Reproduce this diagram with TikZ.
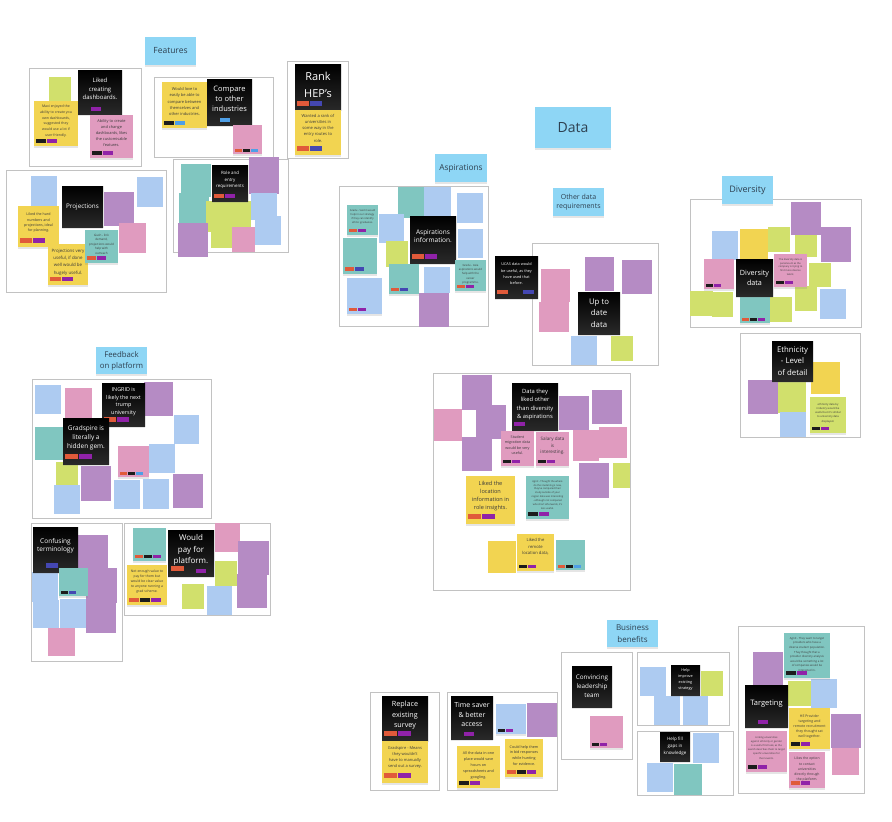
\documentclass[tikz,border=0pt]{standalone}
\usepackage{fontspec}
\setmainfont{Open Sans}
\usepackage{xcolor}
\usepackage{tikz}
\usetikzlibrary{shadows}

\definecolor{labelblue}{HTML}{8ED6F5}
\definecolor{labeltext}{HTML}{2E4050}
\definecolor{stickyyellow}{HTML}{F2D451}
\definecolor{stickylime}{HTML}{D1E06C}
\definecolor{stickypink}{HTML}{E09BBF}
\definecolor{stickypurple}{HTML}{B58BC4}
\definecolor{stickyblue}{HTML}{ADCBF1}
\definecolor{stickyteal}{HTML}{80C6C0}
\definecolor{frameline}{HTML}{C2C2C2}
\definecolor{tagorange}{HTML}{E05A3A}
\definecolor{tagpurple}{HTML}{9022A8}
\definecolor{tagindigo}{HTML}{4447B2}
\definecolor{tagblue}{HTML}{4E9FE6}
\definecolor{tagblack}{HTML}{1C1C1C}
\definecolor{notetext}{HTML}{3A3A3A}

\newcommand{\sz}[2]{\fontsize{#1}{#2}\selectfont}
% row of little voting tags at the foot of a note: node, start, tag width, colours
\newcommand{\tagrow}[4]{%
  \foreach \tc [count=\ti from 0] in {#4}
    \fill[\tc] ([shift={({#2+\ti*(#3+1)},{-0.75*#3})}]#1.south west) rectangle ++({#3},{0.4*#3});}

\begin{document}
\begin{tikzpicture}[x=1pt, y=-1pt]
    % Define styles for the board
    \tikzstyle{frame} = [draw=frameline, line width=0.9pt]
    \tikzstyle{lift} = [drop shadow={shadow xshift=0.4pt, shadow yshift=-2.2pt, opacity=0.2}]
    \tikzstyle{sticky} = [rectangle, anchor=north west, inner sep=0pt, outer sep=0pt]
    \tikzstyle{heading} = [sticky, fill=labelblue, text=labeltext, align=center, lift]
    \tikzstyle{topic} = [sticky, top color=black, bottom color=black!84, lift]
    \tikzstyle{note} = [sticky, lift]
    \tikzstyle{words} = [anchor=north, align=center, inner sep=0pt, text=notetext]
    \tikzstyle{whitewords} = [anchor=center, align=center, inner sep=0pt, text=white]
    \tikzset{wh/.style 2 args={minimum width=#1pt, minimum height=#2pt}}

    \fill[white] (0,0) rectangle (892,822);
    \useasboundingbox (0,0) rectangle (892,822);

    % Frames
    \draw[frame] (29,68) rectangle (141,166);
    \draw[frame] (154,77) rectangle (273,157);
    \draw[frame] (287,61) rectangle (348,158);
    \draw[frame] (6,170) rectangle (166,292);
    \draw[frame] (173,159) rectangle (288,252);
    \draw[frame] (339,186) rectangle (488,326);
    \draw[frame] (532,243) rectangle (658,365);
    \draw[frame] (690,199) rectangle (861,327);
    \draw[frame] (740,333) rectangle (860,437);
    \draw[frame] (32,379) rectangle (211,518);
    \draw[frame] (31,523) rectangle (122,661);
    \draw[frame] (124,523) rectangle (270,615);
    \draw[frame] (433,373) rectangle (630,590);
    \draw[frame] (370,692) rectangle (439,790);
    \draw[frame] (447,692) rectangle (557,790);
    \draw[frame] (561,652) rectangle (632,759);
    \draw[frame] (637,652) rectangle (729,725);
    \draw[frame] (637,731) rectangle (733,795);
    \draw[frame] (738,626) rectangle (864,793);

    % Plain stickies: x/y/width/height/colour
    \foreach \x/\y/\w/\h/\c in {
        49/77/22/25/stickylime,
        31/176/26/30/stickyblue, 104/192/30/34/stickypurple, 137/177/26/30/stickyblue, 119/223/27/30/stickypink,
        181/164/30/33/stickyteal, 179/193/30/32/stickyteal, 249/157/30/37/stickypurple, 206/201/23/31/stickylime,
        229/201/22/31/stickylime, 211/225/21/23/stickylime, 251/193/26/27/stickyblue, 255/216/26/29/stickyblue,
        178/223/30/34/stickypurple, 232/227/23/25/stickypink,
        398/187/26/31/stickyteal, 424/187/27/30/stickyblue, 457/193/26/30/stickyblue, 379/214/25/29/stickyblue,
        458/229/25/29/stickyblue, 386/241/22/26/stickylime, 424/267/26/26/stickyblue, 419/293/30/34/stickypurple,
        541/269/29/33/stickypink, 539/302/30/30/stickypink, 585/257/29/34/stickypurple, 622/260/30/34/stickypurple,
        571/336/26/29/stickyblue, 611/336/22/25/stickylime,
        791/202/30/33/stickypurple, 821/227/30/35/stickypurple, 712/231/26/29/stickyblue, 740/229/28/30/stickyyellow,
        768/227/22/25/stickylime, 795/235/22/22/stickylime, 809/263/22/24/stickylime, 690/291/23/25/stickylime,
        712/292/21/25/stickylime, 770/297/22/25/stickylime, 795/286/22/25/stickylime, 820/289/26/30/stickyblue,
        811/362/29/32/stickyyellow, 748/380/30/34/stickypurple, 778/382/28/31/stickylime, 780/412/26/25/stickyblue,
        35/385/26/29/stickyblue, 65/388/27/30/stickypink, 144/382/29/34/stickypurple, 174/415/25/29/stickyblue,
        35/427/30/33/stickyteal, 149/444/26/29/stickyblue, 56/462/22/25/stickylime, 81/466/30/35/stickypurple,
        54/485/26/29/stickyblue, 114/480/26/29/stickyblue, 143/479/26/30/stickyblue, 173/474/30/34/stickypurple,
        78/535/30/35/stickypurple, 86/568/31/35/stickypurple, 86/600/30/33/stickypurple, 32/572/26/30/stickyblue,
        33/600/26/28/stickyblue, 60/599/26/29/stickyblue, 48/628/27/28/stickypink,
        215/523/25/29/stickypink, 238/541/31/34/stickypurple, 237/574/30/34/stickypurple, 215/561/22/25/stickylime,
        182/584/22/25/stickylime, 207/586/25/29/stickyblue,
        462/375/30/35/stickypurple, 434/409/28/32/stickypink, 476/405/30/34/stickypurple, 462/437/30/34/stickypurple,
        559/396/30/34/stickypurple, 592/390/30/34/stickypurple, 573/430/26/31/stickypink, 599/427/28/31/stickypink,
        579/463/30/35/stickypurple, 613/463/17/25/stickylime, 488/541/28/32/stickyyellow,
        527/703/30/34/stickypurple,
        640/667/26/29/stickyblue, 701/671/22/25/stickylime, 654/696/26/29/stickyblue, 683/696/25/29/stickyblue,
        693/733/26/30/stickyblue, 647/763/26/29/stickyblue, 674/764/28/31/stickyteal,
        753/652/30/34/stickypurple, 788/681/23/25/stickylime, 811/679/26/29/stickyblue, 831/714/30/34/stickypurple,
        832/748/27/27/stickypink}
        \fill[\c] (\x,\y) rectangle ++(\w,\h);

    % Headings
    \node[heading, wh={51}{28}, font=\sz{8.5}{10}] (features) at (145,37) {Features};
    \node[heading, wh={76}{41}, font=\sz{14}{16}] (data) at (535,107) {Data};
    \node[heading, wh={52}{28}, font=\sz{8.3}{10}] (aspirations) at (435,154) {Aspirations};
    \node[heading, wh={51}{28}, font=\sz{7}{8.7}] (otherdata) at (553,188) {Other data\\requirements};
    \node[heading, wh={51}{28}, font=\sz{9}{10}] (diversity) at (722,176) {Diversity};
    \node[heading, wh={51}{27}, font=\sz{7.8}{11}] (feedback) at (96,347) {Feedback\\on platform};
    \node[heading, wh={51}{27}, font=\sz{8}{11.5}] (business) at (607,620) {Business\\benefits};

    % Features
    \node[topic, wh={44}{44}] (dashboards) at (78,70) {};
    \node[whitewords, font=\sz{6}{8.7}] at ([shift={(0,-3)}]dashboards.center) {Liked\\creating\\dashboards.};
    \tagrow{dashboards}{13}{10}{tagpurple}
    \node[note, fill=stickyyellow, wh={44}{45}] (maxi) at (34,101) {};
    \node[words, font=\sz{3.5}{5.7}] at ([shift={(0,4)}]maxi.north) {Maxi enjoyed the\\ability to create you\\own dashboards,\\suggested they\\would use a lot if\\user friendly.};
    \tagrow{maxi}{2}{10}{tagblack,tagpurple}
    \node[note, fill=stickypink, wh={43}{43}] (customise) at (90,115) {};
    \node[words, font=\sz{3.9}{6}] at ([shift={(0,4)}]customise.north) {Ability to create\\and change\\dashboards, likes\\the customisable\\features.};
    \tagrow{customise}{2}{10}{tagblack,tagpurple}

    \node[note, fill=stickyyellow, wh={45}{46}] (lovecompare) at (162,82) {};
    \node[words, font=\sz{4}{6.4}] at ([shift={(0,5)}]lovecompare.north) {Would love to\\easily be able to\\compare between\\themselves and\\other industries.};
    \tagrow{lovecompare}{2}{10}{tagblack,tagblue}
    \node[topic, wh={45}{46}] (compare) at (207,79) {};
    \node[whitewords, font=\sz{7.5}{10.3}] at ([shift={(0,-3)}]compare.center) {Compare\\to other\\industries};
    \tagrow{compare}{13}{10}{tagblue}
    \node[note, fill=stickypink, wh={29}{29}] (comparenote) at (233,125) {};
    \tagrow{comparenote}{1.5}{7}{tagorange,tagblack,tagblue}

    \node[topic, wh={46}{46}] (rank) at (295,64) {};
    \node[whitewords, font=\sz{11}{17}] at ([shift={(0,-2)}]rank.center) {Rank\\HEP's};
    \tagrow{rank}{2}{12}{tagorange,tagindigo}
    \node[note, fill=stickyyellow, wh={46}{45}] (wantrank) at (295,110) {};
    \node[words, font=\sz{4.1}{6.2}] at ([shift={(0,4)}]wantrank.north) {Wanted a rank of\\universities in\\some way in the\\entry routes to\\role.};
    \tagrow{wantrank}{2}{12}{tagorange,tagindigo}

    % Projections and entry requirements
    \node[topic, wh={41}{41}] (projections) at (62,186) {};
    \node[whitewords, font=\sz{6.3}{8}] at (projections.center) {Projections};
    \node[note, fill=stickyyellow, wh={41}{41}] (hardnumbers) at (18,206) {};
    \node[words, font=\sz{3.6}{5.3}] at ([shift={(0,7)}]hardnumbers.north) {Liked the hard\\numbers and\\projections, ideal\\for planning.};
    \tagrow{hardnumbers}{2}{12}{tagorange,tagpurple}
    \node[note, fill=stickyyellow, wh={40}{41}] (veryuseful) at (48,244) {};
    \node[words, font=\sz{4.4}{7.2}] at ([shift={(0,5)}]veryuseful.north) {Projections very\\useful, if done\\well would be\\hugely useful.};
    \tagrow{veryuseful}{2}{11}{tagorange,tagpurple}
    \node[note, fill=stickyteal, wh={33}{33}] (gush) at (85,230) {};
    \node[words, font=\sz{3}{4.5}] at ([shift={(0,4)}]gush.north) {Gush - link\\demand,\\projections would\\help with\\outreach};
    \tagrow{gush}{2}{9}{tagorange,tagpurple}

    \node[topic, wh={36}{36}] (entry) at (212,165) {};
    \node[whitewords, font=\sz{4.4}{6.3}] at ([shift={(0,-3)}]entry.center) {Role and\\entry\\requirements};
    \tagrow{entry}{2}{10}{tagorange,tagpurple}

    % Aspirations
    \node[topic, wh={46}{47}] (aspinfo) at (410,216) {};
    \node[whitewords, font=\sz{6.5}{8.3}] at ([shift={(0,-3)}]aspinfo.center) {Aspirations\\information.};
    \tagrow{aspinfo}{2}{12}{tagorange,tagpurple}
    \node[note, fill=stickyteal, wh={31}{30}] (gradustrategy) at (347,205) {};
    \node[words, font=\sz{2.6}{4}] at ([shift={(0,4)}]gradustrategy.north) {Gradu - Said it would\\help in our strategy\\if they can identify\\ethnic graduates.};
    \tagrow{gradustrategy}{1.5}{8}{tagorange,tagpurple}
    \node[note, fill=stickyteal, wh={34}{36}] (gradusection) at (343,238) {};
    \tagrow{gradusection}{1.5}{9}{tagorange,tagindigo}
    \node[note, fill=stickyblue, wh={35}{36}] (aspblue) at (347,278) {};
    \tagrow{aspblue}{2}{8}{tagorange,tagpurple}
    \node[note, fill=stickyteal, wh={30}{30}] (gradulink) at (389,264) {};
    \tagrow{gradulink}{1.5}{8}{tagorange,tagindigo}
    \node[note, fill=stickyteal, wh={31}{31}] (graduasia) at (455,260) {};
    \node[words, font=\sz{2.8}{4.3}] at ([shift={(0,4)}]graduasia.north) {Gradu - Asia\\aspirations would\\help with the\\career\\programme.};
    \tagrow{graduasia}{1.5}{8}{tagorange,tagpurple}

    % Other data requirements
    \node[topic, wh={43}{42}] (ucas) at (495,256) {};
    \node[whitewords, font=\sz{3.8}{6.3}] at ([shift={(0,-3)}]ucas.center) {UCAS data would\\be useful, as they\\have used that\\before.};
    \tagrow{ucas}{2}{11}{tagorange}
    \tagrow{ucas}{28}{11}{tagindigo}
    \node[topic, wh={42}{42}] (uptodate) at (578,292) {};
    \node[whitewords, font=\sz{7.8}{11.7}] at (uptodate.center) {Up to\\date\\data};

    % Diversity
    \node[note, fill=stickypink, wh={30}{30}] (divpink) at (704,259) {};
    \tagrow{divpink}{1.5}{7}{tagblack,tagpurple}
    \node[note, fill=stickypink, wh={33}{33}] (paramount) at (774,254) {};
    \node[words, font=\sz{2.5}{3.9}] at ([shift={(0,4)}]paramount.north) {The diversity data is\\paramount as the\\company is trying to\\find more diverse\\talent.};
    \tagrow{paramount}{1.5}{8}{tagblack,tagpurple}
    \node[note, fill=stickyteal, wh={30}{28}] (divteal) at (740,295) {};
    \tagrow{divteal}{1.5}{7}{tagorange,tagblack,tagpurple}
    \node[topic, wh={37}{37}] (divdata) at (736,259) {};
    \node[whitewords, font=\sz{7.2}{10}] at (divdata.center) {Diversity\\data};

    \node[topic, wh={41}{40}] (ethnicity) at (772,341) {};
    \node[whitewords, font=\sz{7.8}{11.7}] at (ethnicity.center) {Ethnicity\\- Level\\of detail};
    \node[note, fill=stickylime, wh={36}{36}] (byindustry) at (810,397) {};
    \node[words, font=\sz{2.7}{4.2}] at ([shift={(0,6)}]byindustry.north) {ethnicity data by\\industry would be\\useful but it's similar\\to university data\\displayed.};
    \tagrow{byindustry}{2}{8}{tagblack,tagpurple}

    % Feedback on platform
    \node[topic, wh={43}{43}] (ingrid) at (102,383) {};
    \node[whitewords, font=\sz{5.4}{7.5}] at ([shift={(0,-3)}]ingrid.center) {INGRID is\\likely the next\\trump\\university};
    \tagrow{ingrid}{2}{12}{tagorange,tagpurple}
    \node[topic, wh={46}{46}] (hiddengem) at (63,418) {};
    \node[whitewords, font=\sz{6.5}{9.3}] at ([shift={(0,-3)}]hiddengem.center) {Gradspire is\\literally a\\hidden gem.};
    \tagrow{hiddengem}{2}{13}{tagorange,tagpurple}
    \node[note, fill=stickypink, wh={31}{31}] (feedpink) at (118,446) {};
    \tagrow{feedpink}{1.5}{7}{tagorange,tagblack,tagblue}

    \node[topic, wh={45}{45}] (terminology) at (33,527) {};
    \node[whitewords, font=\sz{6.5}{8}] at ([shift={(0,-4)}]terminology.center) {Confusing\\terminology};
    \tagrow{terminology}{13}{12}{tagindigo}
    \node[note, fill=stickyteal, wh={29}{28}] (termnote) at (59,568) {};
    \tagrow{termnote}{1.5}{7}{tagblack,tagindigo}

    \node[note, fill=stickyteal, wh={33}{33}] (paidfor) at (133,528) {};
    \tagrow{paidfor}{1.5}{8}{tagorange,tagblack,tagpurple}
    \node[topic, wh={46}{46}] (pay) at (168,530) {};
    \node[whitewords, font=\sz{8}{11.3}] at ([shift={(0,-3)}]pay.center) {Would\\pay for\\platform.};
    \tagrow{pay}{3}{13}{tagorange}
    \tagrow{pay}{28}{10}{tagpurple}
    \node[note, fill=stickyyellow, wh={40}{40}] (notenough) at (127,565) {};
    \node[words, font=\sz{3.4}{5}] at ([shift={(0,5)}]notenough.north) {Not enough value to\\pay for them but\\would be clear value\\to anyone running a\\grad scheme.};
    \tagrow{notenough}{2}{10}{tagorange,tagblack,tagpurple}

    % Data they liked
    \node[topic, wh={46}{47}] (likedother) at (512,383) {};
    \node[whitewords, font=\sz{5.8}{8.2}] at ([shift={(0,-2)}]likedother.center) {Data they\\liked other\\than diversity\\\& aspirations};
    \tagrow{likedother}{2}{11}{tagpurple}
    \node[note, fill=stickypink, wh={33}{35}] (migration) at (501,431) {};
    \node[words, font=\sz{3.7}{5.5}] at ([shift={(0,4)}]migration.north) {Student\\migration data\\would be very\\useful.};
    \tagrow{migration}{2}{8}{tagblack,tagpurple}
    \node[note, fill=stickypink, wh={33}{34}] (salary) at (536,432) {};
    \node[words, font=\sz{4.6}{6.6}] at ([shift={(0,5)}]salary.north) {Salary data\\is\\interesting.};
    \tagrow{salary}{2}{8}{tagblack,tagpurple}
    \node[note, fill=stickyyellow, wh={49}{48}] (location) at (466,476) {};
    \node[words, font=\sz{5.6}{8}] at ([shift={(0,5)}]location.north) {Liked the\\location\\information in\\role insights.};
    \tagrow{location}{2}{13}{tagorange,tagpurple}
    \node[note, fill=stickyteal, wh={43}{43}] (wheredo) at (526,476) {};
    \node[words, font=\sz{2.5}{3.9}] at ([shift={(0,4)}]wheredo.north) {Agnit - Thought the where\\do the students go now,\\they've compared their\\study outside of your\\region data was interesting\\- although not compared\\who short afterwards, it's\\less useful.};
    \tagrow{wheredo}{2}{10}{tagblack,tagpurple}
    \node[note, fill=stickyyellow, wh={37}{37}] (remote) at (517,534) {};
    \node[words, font=\sz{4.2}{6.8}] at ([shift={(0,4)}]remote.north) {Liked the\\remote\\location data,};
    \tagrow{remote}{2}{8}{tagblack,tagpurple}
    \node[note, fill=stickyteal, wh={29}{30}] (remoteteal) at (556,540) {};
    \tagrow{remoteteal}{1.5}{7}{tagorange,tagblack,tagblue}

    % Business benefits
    \node[topic, wh={46}{45}] (survey) at (382,696) {};
    \node[whitewords, font=\sz{7.2}{10.5}] at ([shift={(0,-3)}]survey.center) {Replace\\existing\\survey};
    \tagrow{survey}{2}{13}{tagorange,tagpurple}
    \node[note, fill=stickyyellow, wh={46}{42}] (manually) at (382,741) {};
    \node[words, font=\sz{4}{6}] at ([shift={(0,5)}]manually.north) {Gradspire - Means\\they wouldn't\\have to manually\\send out a survey.};
    \tagrow{manually}{2}{13}{tagorange,tagpurple}

    \node[topic, wh={42}{43}] (timesaver) at (451,696) {};
    \node[whitewords, font=\sz{7}{9.3}] at ([shift={(0,-3)}]timesaver.center) {Time saver\\\& better\\access};
    \tagrow{timesaver}{13}{10}{tagpurple}
    \node[note, fill=stickyblue, wh={30}{30}] (timeblue) at (496,704) {};
    \tagrow{timeblue}{1.5}{7}{tagblack,tagpurple}
    \node[note, fill=stickyyellow, wh={43}{42}] (onestop) at (457,746) {};
    \node[words, font=\sz{3.7}{6}] at ([shift={(0,5)}]onestop.north) {All the data in one\\place would save\\hours on\\spreadsheets and\\googling.};
    \tagrow{onestop}{2}{10}{tagblack,tagpurple}
    \node[note, fill=stickyyellow, wh={38}{38}] (bid) at (505,739) {};
    \node[words, font=\sz{3.7}{5.7}] at ([shift={(0,6)}]bid.north) {Could help them\\in bid responses\\while hunting\\for evidence.};
    \tagrow{bid}{2}{9}{tagorange,tagblack,tagpurple}

    \node[topic, wh={40}{41}] (leadership) at (572,666) {};
    \node[whitewords, font=\sz{6.3}{9}] at (leadership.center) {Convincing\\leadership\\team};
    \node[note, fill=stickypink, wh={33}{32}] (leadnote) at (590,716) {};
    \tagrow{leadnote}{1.5}{7}{tagblack,tagpurple}

    \node[topic, wh={29}{30}] (strategy) at (671,665) {};
    \node[whitewords, font=\sz{3.8}{6}] at (strategy.center) {Help\\improve\\existing\\strategy};
    \node[topic, wh={30}{29}] (gaps) at (660,732) {};
    \node[whitewords, font=\sz{4.5}{6.7}] at (gaps.center) {Help fill\\gaps in\\knowledge};

    % Targeting
    \node[note, fill=stickyteal, wh={46}{45}] (diverseproviders) at (784,633) {};
    \node[words, font=\sz{2.8}{4.6}] at ([shift={(0,4)}]diverseproviders.north) {Agnit - They want to target\\providers who have a\\diverse student population.\\They thought that a\\provider diversity analysis\\would be something a lot\\of companies would be\\interested in.};
    \tagrow{diverseproviders}{2}{10}{tagblack,tagpurple}
    \node[topic, wh={43}{42}] (targeting) at (745,685) {};
    \node[whitewords, font=\sz{7.5}{9}] at ([shift={(0,-2)}]targeting.center) {Targeting};
    \tagrow{targeting}{13}{10}{tagpurple}
    \node[note, fill=stickyyellow, wh={41}{41}] (sattogether) at (789,708) {};
    \node[words, font=\sz{3.5}{5}] at ([shift={(0,7)}]sattogether.north) {HE Provider\\targeting and\\remote recruitment\\they thought sat\\well together.};
    \tagrow{sattogether}{2}{9}{tagblack,tagpurple}
    \node[note, fill=stickypink, wh={41}{41}] (linking) at (746,731) {};
    \node[words, font=\sz{2.5}{4.2}] at ([shift={(0,5)}]linking.north) {Linking universities\\against ethnicity or gender\\is a useful first look, as the\\search describes them to target\\specific universities for\\their events.};
    \tagrow{linking}{2}{9}{tagblack,tagpurple}
    \node[note, fill=stickypink, wh={36}{36}] (contact) at (789,752) {};
    \node[words, font=\sz{3.4}{5.3}] at ([shift={(0,5)}]contact.north) {Likes the option\\to contact\\universities\\directly through\\the platform.};
    \tagrow{contact}{2}{9}{tagorange,tagpurple}
\end{tikzpicture}
\end{document}
